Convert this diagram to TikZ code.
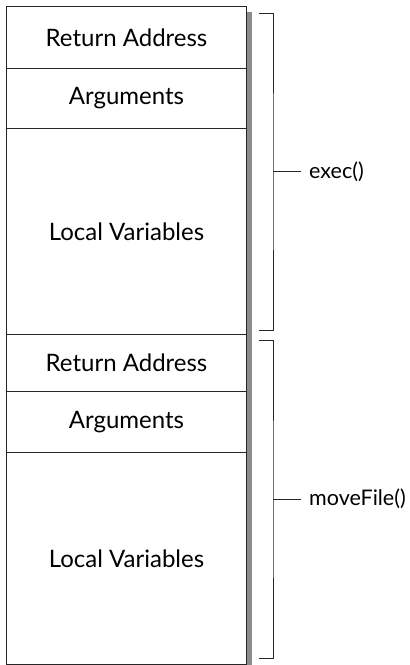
\documentclass[tikz,border=0pt]{standalone}
\usepackage{fontspec}
\setmainfont{Lato}
\usetikzlibrary{positioning}
\tikzstyle{slot}=[draw=black!85,line width=1pt,minimum width=240pt,inner sep=0pt,anchor=north west,font=\fontsize{24}{28}\selectfont]
\tikzstyle{shade}=[fill=black!45,draw=none]
\tikzstyle{brace}=[draw=black!85,line width=1pt]
\tikzstyle{tag}=[anchor=west,inner sep=0pt,inner xsep=8pt,font=\fontsize{21.5}{25}\selectfont]

\begin{document}
\begin{tikzpicture}[x=1pt,y=-1pt]
			\useasboundingbox (0,0) rectangle (410,665);
			\fill[shade] (246.5,12) rectangle (252,665);
			% stack frames
			\foreach \n/\t/\y/\h in {ret1/Return Address/6/62,arg1/Arguments/68/60,loc1/Local Variables/128/206,ret2/Return Address/334/57,arg2/Arguments/391/61,loc2/Local Variables/452/212}
			{
				\node (\n) at (6,\y) [slot,minimum height=\h pt] {\t};
			}
			% brackets
			\foreach \b/\top/\bot/\t in {exec/13/330/exec(),move/340/658/moveFile()}
			{
				\coordinate (\b top) at (259,\top);
				\coordinate (\b bot) at (259,\bot);
				\coordinate (\b mid) at (273,{(\top+\bot)/2});
				\node (\b tag) at (301,{(\top+\bot)/2}) [tag] {\t};
				\draw[brace] (\b top) -| (\b mid) |- (\b bot);
				\draw[brace] (\b mid)--(\b tag.west);
			}
		\end{tikzpicture}
\end{document}
